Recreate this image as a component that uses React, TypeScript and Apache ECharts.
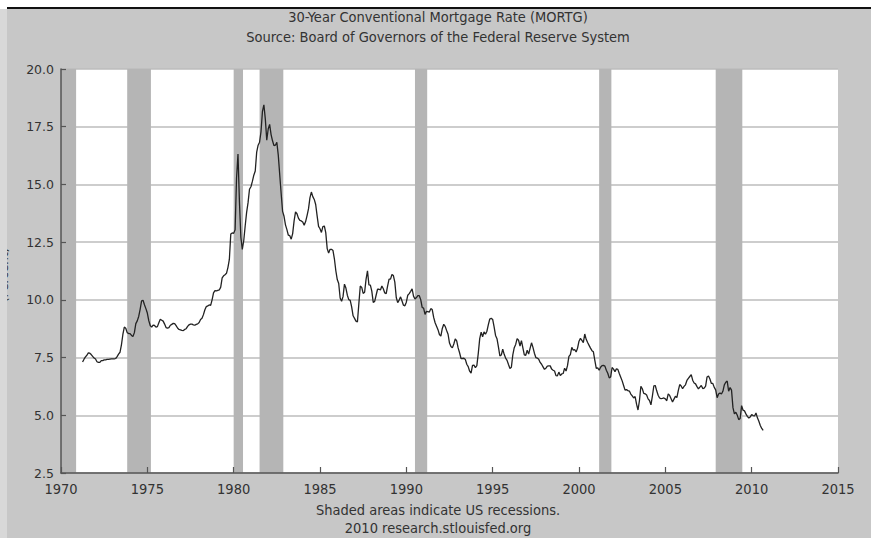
import React, { useEffect, useRef } from "react";
import * as echarts from "echarts";

// Monthly 30-year conventional mortgage rate (%), starting April 1971
const rates1970s = [
  // 1971 Apr-Dec
  7.31, 7.43, 7.53, 7.6, 7.7, 7.69, 7.63, 7.55, 7.48,
  // 1972
  7.44, 7.32, 7.29, 7.29, 7.37, 7.37, 7.4, 7.4, 7.42, 7.42, 7.43, 7.44,
  // 1973
  7.44, 7.44, 7.46, 7.54, 7.65, 7.73, 8.05, 8.5, 8.82, 8.77, 8.58, 8.54,
  // 1974
  8.54, 8.46, 8.41, 8.58, 8.97, 9.09, 9.28, 9.59, 9.96, 9.98, 9.79, 9.62,
  // 1975
  9.43, 9.1, 8.89, 8.82, 8.91, 8.89, 8.82, 8.84, 9.01, 9.16, 9.12, 9.08,
  // 1976
  8.95, 8.8, 8.78, 8.8, 8.9, 8.94, 8.98, 8.97, 8.88, 8.78, 8.72, 8.7,
  // 1977
  8.68, 8.67, 8.72, 8.75, 8.85, 8.92, 8.95, 8.95, 8.92, 8.9, 8.94, 8.96,
  // 1978
  9.02, 9.15, 9.2, 9.36, 9.57, 9.71, 9.74, 9.78, 9.76, 10.0, 10.3, 10.4,
  // 1979
  10.39, 10.41, 10.43, 10.55, 10.95, 11.04, 11.09, 11.15, 11.4, 11.75, 12.85, 12.9,
];
const rates1980s = [
  12.88, 13.04, 15.28, 16.32, 14.26, 12.71, 12.19, 12.56, 13.2, 13.79, 14.21, 14.79,
  14.9, 15.13, 15.4, 15.58, 16.4, 16.7, 16.83, 17.29, 18.16, 18.45, 17.83, 16.92,
  17.4, 17.6, 17.16, 16.89, 16.68, 16.7, 16.82, 16.27, 15.43, 14.61, 13.83, 13.62,
  13.25, 13.04, 12.8, 12.78, 12.63, 12.87, 13.42, 13.81, 13.73, 13.54, 13.44, 13.42,
  13.37, 13.23, 13.39, 13.65, 13.94, 14.42, 14.67, 14.47, 14.35, 14.13, 13.64, 13.18,
  13.08, 12.92, 13.17, 13.2, 12.91, 12.22, 12.03, 12.19, 12.19, 12.14, 11.78, 11.26,
  10.88, 10.71, 10.08, 9.94, 10.14, 10.68, 10.51, 10.2, 10.01, 9.98, 9.7, 9.31,
  9.2, 9.08, 9.04, 9.83, 10.6, 10.54, 10.28, 10.33, 10.89, 11.26, 10.65, 10.64,
  10.38, 9.89, 9.93, 10.2, 10.46, 10.46, 10.43, 10.6, 10.48, 10.3, 10.27, 10.61,
  10.9, 10.9, 11.1, 11.05, 10.77, 10.1, 9.88, 9.99, 10.13, 9.95, 9.77, 9.74,
];
const rates1990s = [
  9.9, 10.2, 10.27, 10.37, 10.48, 10.16, 10.04, 10.1, 10.18, 10.18, 10.01, 9.67,
  9.64, 9.37, 9.5, 9.49, 9.47, 9.62, 9.58, 9.24, 9.01, 8.86, 8.71, 8.5,
  8.43, 8.76, 8.94, 8.85, 8.67, 8.51, 8.13, 7.98, 7.92, 8.09, 8.31, 8.22,
  7.92, 7.71, 7.46, 7.46, 7.47, 7.42, 7.21, 7.11, 6.91, 6.83, 7.16, 7.17,
  7.06, 7.15, 7.68, 8.32, 8.6, 8.4, 8.61, 8.51, 8.64, 8.93, 9.17, 9.2,
  9.15, 8.83, 8.46, 8.32, 7.96, 7.57, 7.61, 7.86, 7.64, 7.48, 7.38, 7.2,
  7.03, 7.08, 7.62, 7.93, 8.07, 8.32, 8.25, 8.0, 8.23, 7.92, 7.62, 7.6,
  7.82, 7.65, 7.9, 8.14, 7.94, 7.69, 7.5, 7.48, 7.43, 7.29, 7.21, 7.1,
  6.99, 7.04, 7.13, 7.14, 7.14, 7.0, 6.95, 6.92, 6.72, 6.71, 6.87, 6.72,
  6.79, 6.81, 7.04, 6.92, 7.15, 7.55, 7.63, 7.94, 7.82, 7.85, 7.74, 7.91,
];
const rates2000s = [
  8.21, 8.33, 8.24, 8.15, 8.52, 8.29, 8.15, 8.03, 7.91, 7.8, 7.75, 7.38,
  7.03, 7.05, 6.95, 7.08, 7.15, 7.16, 7.13, 6.95, 6.82, 6.62, 6.66, 7.07,
  7.0, 6.89, 7.01, 6.99, 6.81, 6.65, 6.49, 6.29, 6.09, 6.11, 6.07, 6.05,
  5.92, 5.84, 5.75, 5.81, 5.48, 5.23, 5.63, 6.26, 6.15, 5.95, 5.93, 5.88,
  5.71, 5.64, 5.45, 5.83, 6.27, 6.29, 6.06, 5.87, 5.75, 5.72, 5.73, 5.75,
  5.71, 5.63, 5.93, 5.86, 5.72, 5.58, 5.7, 5.82, 5.77, 6.07, 6.33, 6.27,
  6.15, 6.25, 6.32, 6.51, 6.6, 6.68, 6.76, 6.52, 6.4, 6.36, 6.24, 6.14,
  6.22, 6.29, 6.16, 6.18, 6.26, 6.66, 6.7, 6.57, 6.38, 6.38, 6.21, 6.1,
  5.76, 5.92, 5.97, 5.92, 6.04, 6.32, 6.43, 6.48, 6.04, 6.2, 6.09, 5.33,
  5.06, 5.13, 5.0, 4.81, 4.86, 5.42, 5.22, 5.19, 5.06, 4.95, 4.88, 4.93,
];
const rates2010s = [5.03, 4.99, 4.97, 5.1, 4.89, 4.74, 4.56, 4.43, 4.35];

const startYear = 1971;
const startMonth = 4;

// US recessions (NBER peak month, trough month)
const recessions: [string, string][] = [
  ["1969-12", "1970-11"],
  ["1973-11", "1975-03"],
  ["1980-01", "1980-07"],
  ["1981-07", "1982-11"],
  ["1990-07", "1991-03"],
  ["2001-03", "2001-11"],
  ["2007-12", "2009-06"],
];

const yTicks = [2.5, 5.0, 7.5, 10.0, 12.5, 15.0, 17.5, 20.0];
const xTicks = [1970, 1975, 1980, 1985, 1990, 1995, 2000, 2005, 2010, 2015];

const titleText = "30-Year Conventional Mortgage Rate (MORTG)";
const subtitleText = "Source: Board of Governors of the Federal Reserve System";
const footer1 = "Shaded areas indicate US recessions.";
const footer2 = "2010 research.stlouisfed.org";
const yName = "(Percent)";

function ym(s: string, offset: number): number {
  const [y, m] = s.split("-").map(Number);
  return y + (m - 1 + offset) / 12;
}

export default function App() {
  const ref = useRef<HTMLDivElement>(null);
  useEffect(() => {
    if (!ref.current) return;
    const chart = echarts.init(ref.current, undefined, { renderer: "svg" });
    const all = [...rates1970s, ...rates1980s, ...rates1990s, ...rates2000s, ...rates2010s];
    const data = all.map((v, i) => [startYear + (startMonth - 1 + i) / 12, v]);
    const bands = recessions.map(([a, b]) => [
      { xAxis: Math.max(xTicks[0], ym(a, 0)) },
      { xAxis: ym(b, 0.5) },
    ]);
    const condensed = "'DejaVu Sans Condensed', 'DejaVu Sans', sans-serif";
    const plain = "'DejaVu Sans', sans-serif";
    const big = 14.5;
    const xMin = xTicks[0];
    const xMax = xTicks[xTicks.length - 1];
    const yMin = yTicks[0];
    const yMax = yTicks[yTicks.length - 1];
    chart.setOption({
      animation: false,
      backgroundColor: "#ffffff",
      graphic: [
        { type: "rect", z: -10, shape: { x: 7, y: 9, width: 864, height: 529 }, style: { fill: "#c7c7c7" } },
        {
          type: "text", z: -5, x: 4, y: 275, rotation: Math.PI / 2,
          style: { text: yName, fontSize: 12, fontFamily: plain, fill: "#333", align: "center", verticalAlign: "middle" },
        },
        { type: "rect", z: -4, shape: { x: 0, y: 9, width: 7, height: 529 }, style: { fill: "#d8d8d8" } },
        { type: "line", z: -3, shape: { x1: 7, y1: 8, x2: 871, y2: 8 }, style: { stroke: "#111", lineWidth: 2 } },
        {
          type: "text", x: 438, y: 17,
          style: { text: titleText, fontSize: big, fontFamily: condensed, fill: "#333", align: "center", verticalAlign: "middle" },
        },
        {
          type: "text", x: 438, y: 37,
          style: { text: subtitleText, fontSize: big, fontFamily: condensed, fill: "#333", align: "center", verticalAlign: "middle" },
        },
        {
          type: "text", x: 438, y: 510,
          style: { text: footer1, fontSize: big, fontFamily: condensed, fill: "#333", align: "center", verticalAlign: "middle" },
        },
        {
          type: "text", x: 438, y: 528,
          style: { text: footer2, fontSize: big, fontFamily: condensed, fill: "#333", align: "center", verticalAlign: "middle" },
        },
      ],
      grid: {
        left: 61, right: 33, top: 69, bottom: 65,
        show: true, backgroundColor: "#ffffff", borderWidth: 0,
      },
      xAxis: {
        type: "value", min: xMin, max: xMax, interval: 5, z: 10,
        axisLine: { show: true, onZero: false, lineStyle: { color: "#555", width: 1.5 } },
        axisTick: { show: true, inside: true, length: 6, lineStyle: { color: "#555", width: 1.2 } },
        splitLine: { show: false },
        axisLabel: {
          margin: 8, fontSize: big, fontFamily: condensed, color: "#333",
          formatter: (v: number) => String(Math.round(v)),
        },
      },
      yAxis: [
        {
          type: "value", min: yMin, max: yMax, interval: 2.5, z: 0,
          axisLine: { show: false }, axisTick: { show: false }, axisLabel: { show: false },
          splitLine: { show: true, lineStyle: { color: "#bdbdbd", width: 1.5 } },
        },
        {
          type: "value", min: yMin, max: yMax, interval: 2.5, z: 10, position: "left",
          axisLine: { show: true, lineStyle: { color: "#555", width: 1.5 } },
          axisTick: { show: true, inside: true, length: 5, lineStyle: { color: "#555", width: 1.2 } },
          splitLine: { show: false },
          axisLabel: {
            margin: 7, fontSize: 12.5, fontFamily: plain, color: "#333",
            formatter: (v: number) => v.toFixed(1),
          },
        },
      ],
      series: [
        {
          type: "line", data: [], z: 1, yAxisIndex: 0,
          markArea: { silent: true, itemStyle: { color: "#b5b5b5" }, data: bands },
        },
        {
          type: "line", data, z: 3, yAxisIndex: 0, showSymbol: false, symbol: "none",
          lineStyle: { color: "#222", width: 1.3 },
        },
      ],
    });
    return () => chart.dispose();
  }, []);
  return <div ref={ref} style={{ position: "fixed", left: 0, top: 0, width: 871, height: 538 }} />;
}
